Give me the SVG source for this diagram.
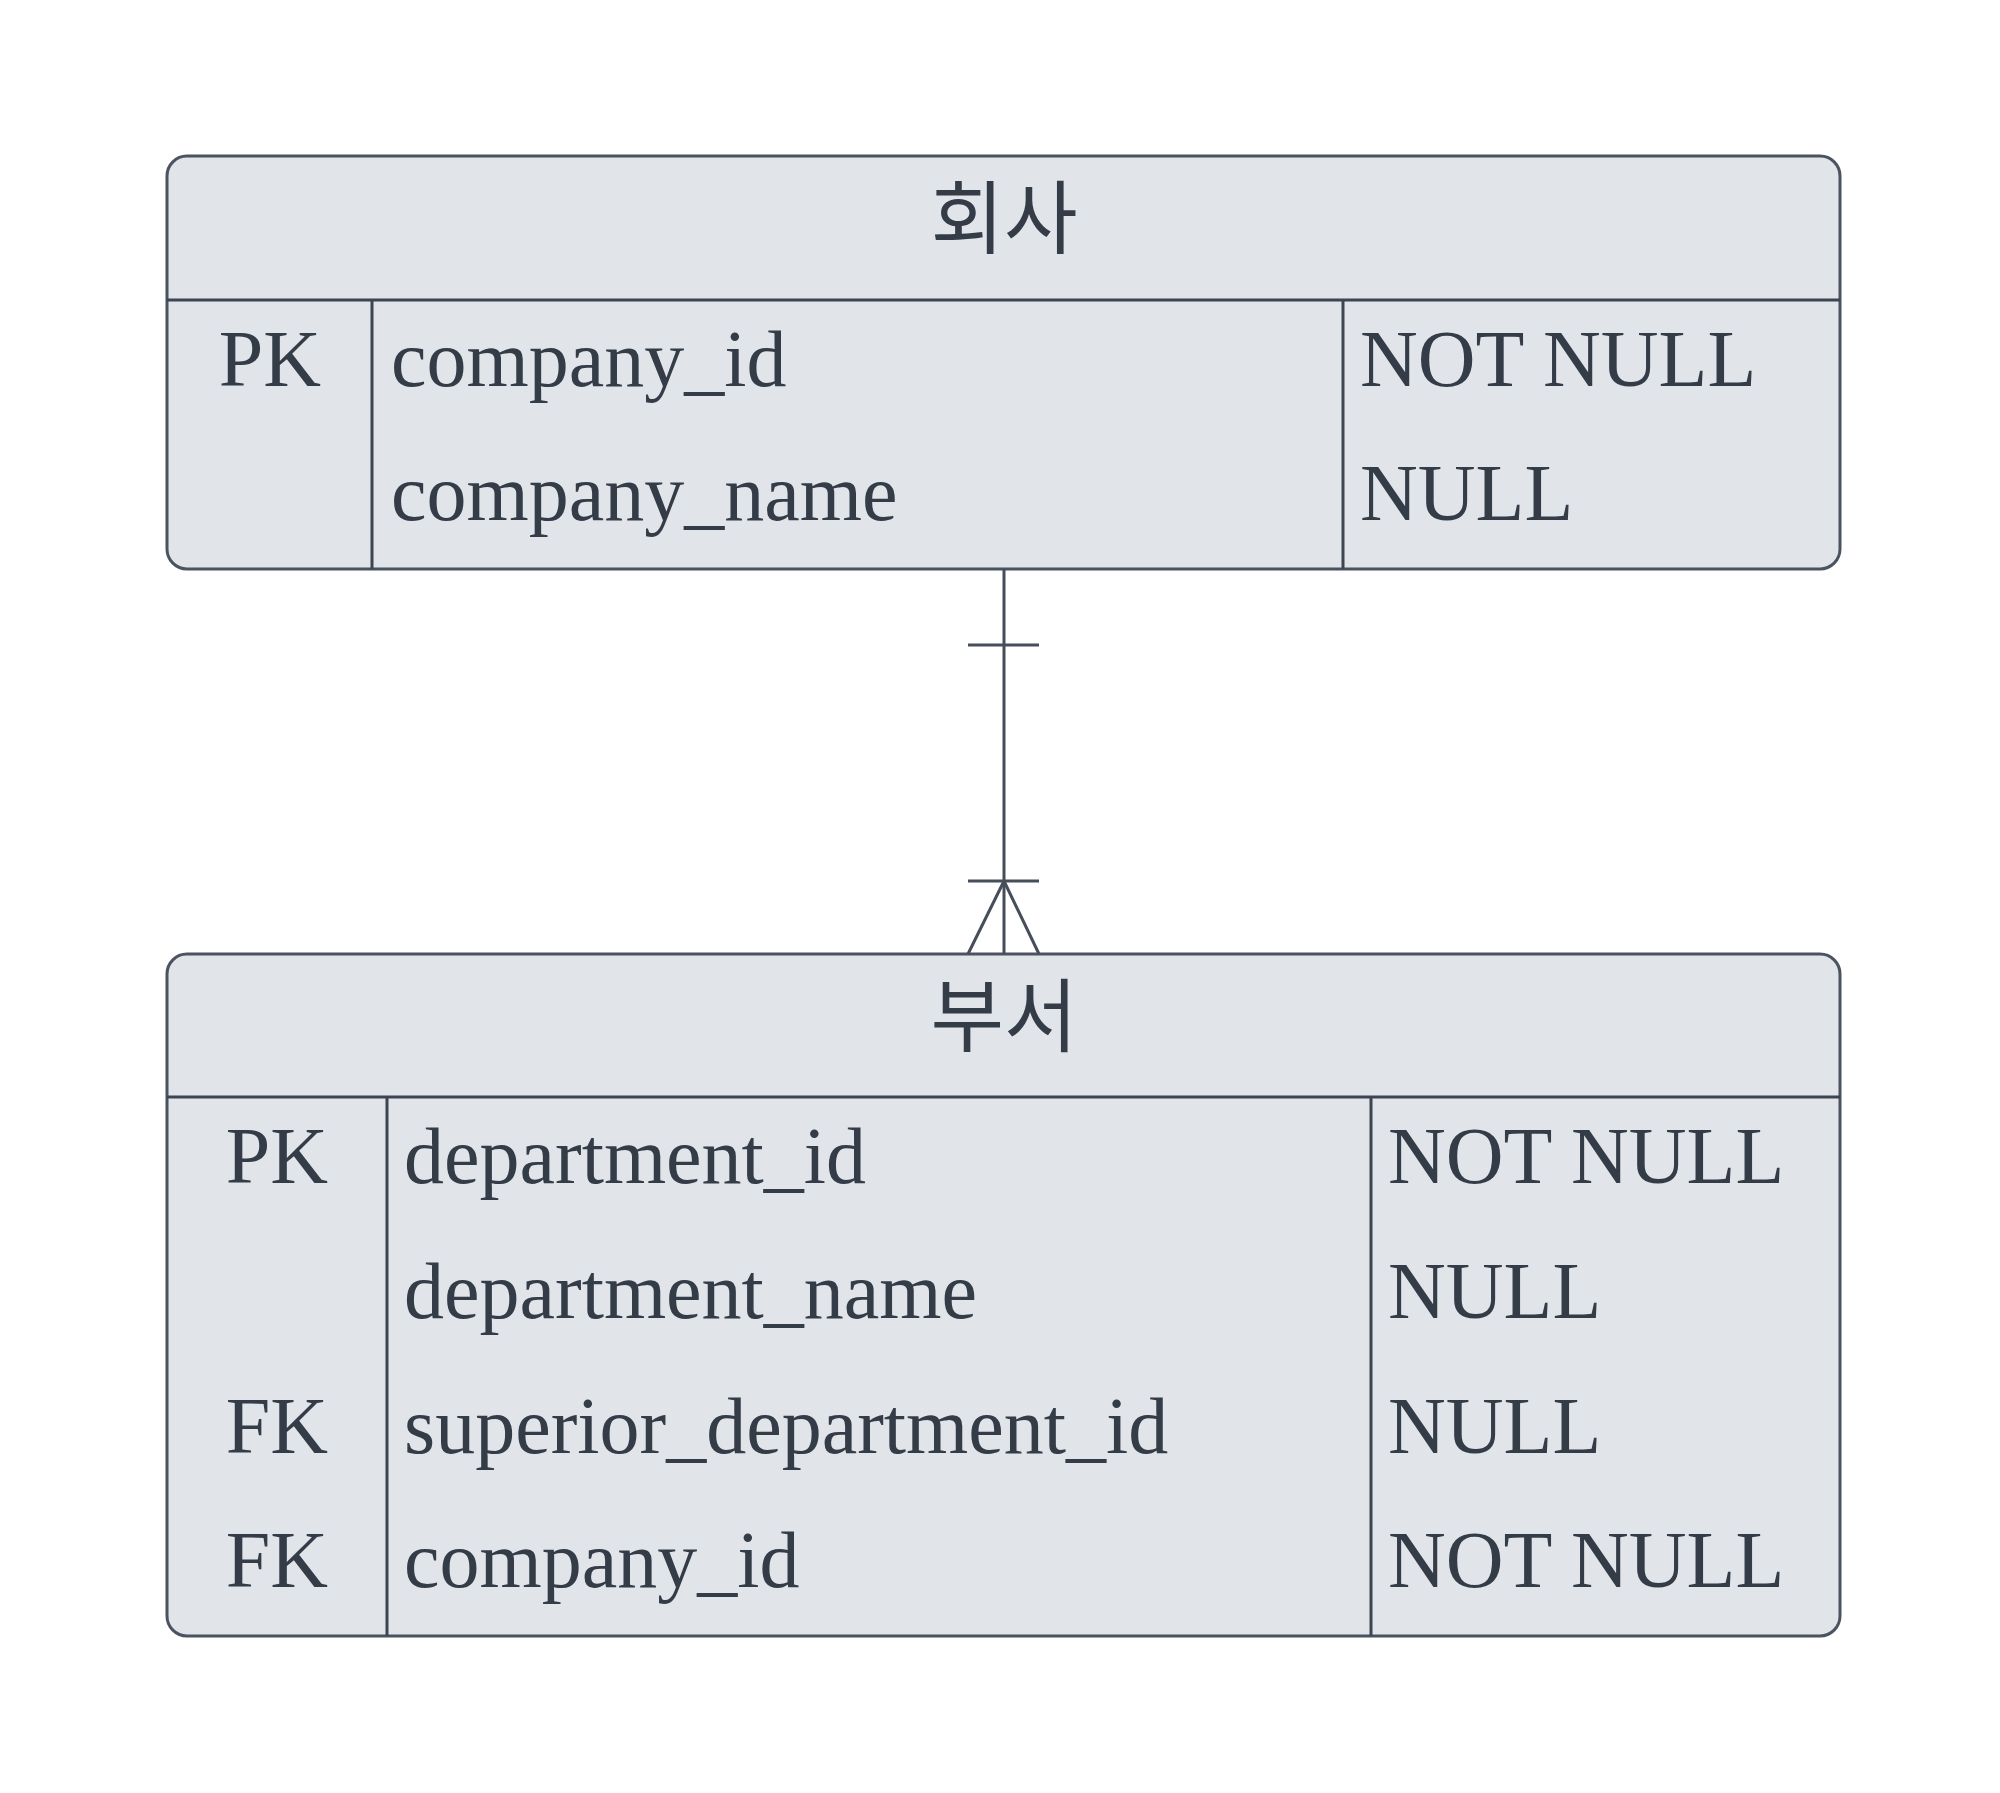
<svg xmlns="http://www.w3.org/2000/svg" width="2000" height="1793" viewBox="0 0 2000 1793">
  <style>
    .box { fill: #e1e4e9; stroke: #4b5360; stroke-width: 3; }
    .div { stroke: #3d4552; stroke-width: 3; fill: none; }
    .title { font-family: "Noto Sans CJK KR", "Noto Sans", sans-serif; font-size: 80px; fill: #343c48; text-anchor: middle; }
    .attr { font-family: "Liberation Serif", "Times New Roman", serif; font-size: 80px; fill: #343c48; }
    .key { text-anchor: middle; }
    .rel { stroke: #464e5a; stroke-width: 3; fill: none; }
  </style>
  <rect x="0" y="0" width="2000" height="1793" fill="#ffffff"/>

  <g id="company">
    <rect class="box" x="167" y="156" width="1673" height="413" rx="20" ry="20"/>
    <line class="div" x1="167" y1="300" x2="1840" y2="300"/>
    <line class="div" x1="372" y1="300" x2="372" y2="569"/>
    <line class="div" x1="1343" y1="300" x2="1343" y2="569"/>
    <text class="title" x="1004" y="247">회사</text>
    <text class="attr key" x="270" y="386">PK</text>
    <text class="attr" x="391" y="386">company_id</text>
    <text class="attr" x="1360" y="386">NOT NULL</text>
    <text class="attr" x="391" y="520">company_name</text>
    <text class="attr" x="1360" y="520">NULL</text>
  </g>

  <g id="department">
    <rect class="box" x="167" y="954" width="1673" height="682" rx="20" ry="20"/>
    <line class="div" x1="167" y1="1097" x2="1840" y2="1097"/>
    <line class="div" x1="387" y1="1097" x2="387" y2="1636"/>
    <line class="div" x1="1371" y1="1097" x2="1371" y2="1636"/>
    <text class="title" x="1004" y="1045">부서</text>
    <text class="attr key" x="277" y="1183">PK</text>
    <text class="attr" x="404" y="1183">department_id</text>
    <text class="attr" x="1388" y="1183">NOT NULL</text>
    <text class="attr" x="404" y="1318">department_name</text>
    <text class="attr" x="1388" y="1318">NULL</text>
    <text class="attr key" x="277" y="1453">FK</text>
    <text class="attr" x="404" y="1453">superior_department_id</text>
    <text class="attr" x="1388" y="1453">NULL</text>
    <text class="attr key" x="277" y="1587">FK</text>
    <text class="attr" x="404" y="1587">company_id</text>
    <text class="attr" x="1388" y="1587">NOT NULL</text>
  </g>

  <g id="connectors">
    <line class="rel" x1="1004" y1="569" x2="1004" y2="954"/>
    <line class="rel" x1="968" y1="645" x2="1039" y2="645"/>
    <line class="rel" x1="968" y1="881" x2="1039" y2="881"/>
    <polyline class="rel" points="968,954 1004,881 1039,954"/>
  </g>
</svg>
